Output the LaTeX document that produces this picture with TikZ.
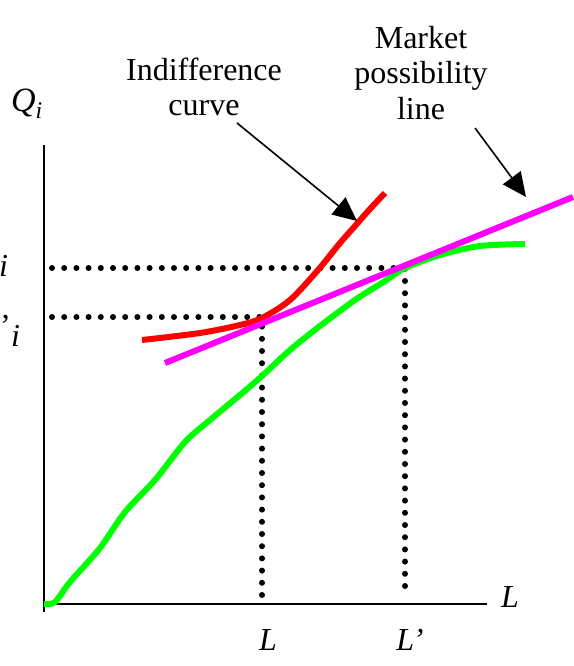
\documentclass[tikz,border=0pt]{standalone}
\usepackage{fontspec}
\setmainfont{Liberation Serif}
\usepackage{tikz}
\usetikzlibrary{arrows.meta}
\definecolor{indred}{HTML}{FF0000}
\definecolor{prodgreen}{HTML}{00FF00}
\definecolor{mktline}{HTML}{FF00FF}

\begin{document}
\begin{tikzpicture}[
  x=1pt, y=-1pt,
  font=\fontsize{32}{35.5}\selectfont,
  axis/.style={line width=2pt},
  guide/.style={line width=6pt, dash pattern=on 0pt off 12.2pt, line cap=round},
  crv/.style={line width=6pt},
  lbl/.style={align=center, inner sep=0pt},
  pointer/.style={line width=1.6pt, -{Triangle[length=24pt,width=22pt]}}
]
  \useasboundingbox (0,0) rectangle (573,666);
  % Achsen
  \coordinate (O)    at (44,604);
  \coordinate (ytop) at (44,145);
  \coordinate (ybot) at (44,612);
  \coordinate (xend) at (487,604);
  \draw[axis] (ytop) -- (ybot);
  \draw[axis] (O) -- (xend);
  \node[lbl] (qlab) at (27,104) {\fontsize{34}{36}\selectfont\textit{Q\textsubscript{i}}};
  \node[lbl] (llab) at (510,597) {\textit{L}};
  % Beschriftung der Achsen (links abgeschnitten)
  \node[lbl, anchor=base west] (qone) at (-1,276) {\textit{i}};
  \node[lbl, anchor=north west] (qtwop) at (0,315) {’};
  \node[lbl, anchor=base west] (qtwo) at (11,346) {\textit{i}};
  \node[lbl] (lone) at (268,640) {\textit{L}};
  \node[lbl] (ltwo) at (410,640) {\textit{L’}};
  % Tangentialpunkte
  \coordinate (A) at (262,317);
  \coordinate (B) at (405,268);
  \coordinate (ya) at (52,317);
  \coordinate (yb) at (52,268);
  \coordinate (xa) at (262,598);
  \coordinate (xb) at (405,598);
  \draw[guide] (yb) -- (B) -- (xb);
  \draw[guide] (ya) -- (A) -- (xa);
  % Kurven
  \draw[crv, prodgreen] plot[smooth, tension=0.5] coordinates {
    (44,604) (55,602) (70,582) (100,548) (125,512) (155,480) (185,442)
    (210,420) (240,395) (262,376) (290,350) (320,326) (355,300)
    (385,281) (405,268) (440,255) (480,246) (525,244)};
  \draw[crv, indred] plot[smooth, tension=0.5] coordinates {
    (142,340) (200,333) (240,325) (262,318) (290,300) (318,270)
    (340,243) (355,226) (370,209) (385,193)};
  \draw[crv, mktline] (165,363) -- (573,197);
  % Legende mit Pfeilen
  \node[lbl] (indif) at (204,87) {Indifference\\curve};
  \node[lbl] (market) at (421,73) {Market\\possibility\\line};
  \coordinate (indtip) at (357,221);
  \coordinate (mkttip) at (526,197);
  \draw[pointer] (237,123) -- (indtip);
  \draw[pointer] (475,128) -- (mkttip);
\end{tikzpicture}
\end{document}
